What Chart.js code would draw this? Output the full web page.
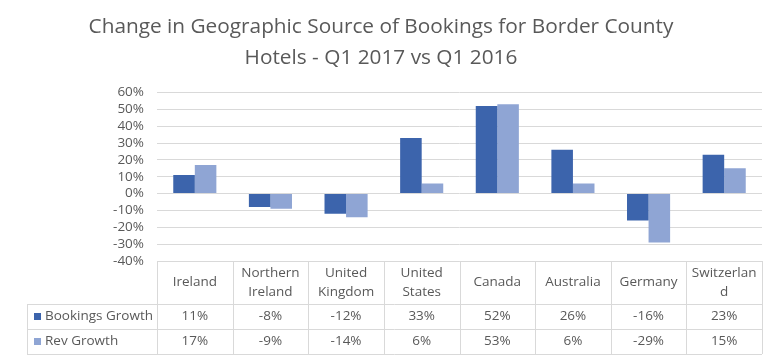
<!DOCTYPE html>
<html>
<head>
<meta charset="utf-8" />
<title>Change in Geographic Source of Bookings</title>
<script src="https://cdn.jsdelivr.net/npm/chart.js@4.4.1/dist/chart.umd.min.js"></script>
<style>
  html, body { margin: 0; padding: 0; background: #fff; }
  #wrap { width: 780px; height: 363px; }
</style>
</head>
<body>
<div id="wrap"><canvas id="myChart" width="780" height="363"></canvas></div>
<script>
// data
const categories = [
  ['Ireland'],
  ['Northern', 'Ireland'],
  ['United', 'Kingdom'],
  ['United', 'States'],
  ['Canada'],
  ['Australia'],
  ['Germany'],
  ['Switzerlan', 'd']
];
const seriesNames = ['Bookings Growth', 'Rev Growth'];
const bookingsGrowth = [11, -8, -12, 33, 52, 26, -16, 23];
const revGrowth = [17, -9, -14, 6, 53, 6, -29, 15];
const yMin = -40, yMax = 60, yStep = 10;

const darkBlue = '#3C64AC';
const lightBlue = '#8FA5D4';
const textGrey = '#595959';
const lineGrey = '#D9D9D9';
const fontFam = '"Open Sans", "Noto Sans", sans-serif';
const smallSize = 13.5;

// draws the excel style data table under the plot
const dataTable = {
  id: 'dataTable',
  afterDraw(chart) {
    const ctx = chart.ctx;
    const x = chart.scales.x;
    const area = chart.chartArea;
    const top = area.bottom;
    const headBottom = top + 43;
    const row1Bottom = headBottom + 25;
    const row2Bottom = row1Bottom + 25;
    const tableLeft = 27;
    const half = (x.getPixelForValue(1) - x.getPixelForValue(0)) / 2;

    ctx.save();
    ctx.strokeStyle = lineGrey;
    ctx.lineWidth = 1;
    ctx.beginPath();
    // horizontal lines
    ctx.moveTo(area.left, top + 0.5); ctx.lineTo(area.right, top + 0.5);
    [headBottom, row1Bottom, row2Bottom].forEach(y => {
      ctx.moveTo(tableLeft, Math.round(y) + 0.5); ctx.lineTo(area.right, Math.round(y) + 0.5);
    });
    // vertical lines
    ctx.moveTo(tableLeft + 0.5, headBottom); ctx.lineTo(tableLeft + 0.5, row2Bottom);
    for (let i = 0; i <= categories.length; i++) {
      const px = Math.round(i < categories.length ? x.getPixelForValue(i) - half : x.getPixelForValue(i - 1) + half) + 0.5;
      ctx.moveTo(px, top); ctx.lineTo(px, row2Bottom);
    }
    ctx.stroke();

    ctx.fillStyle = textGrey;
    ctx.font = smallSize + 'px ' + fontFam;
    ctx.textAlign = 'center';
    ctx.textBaseline = 'middle';
    const headMid = (top + headBottom) / 2;
    categories.forEach((lines, i) => {
      const cx = x.getPixelForValue(i);
      const lh = 19;
      const y0 = headMid - (lines.length - 1) * lh / 2;
      lines.forEach((t, k) => ctx.fillText(t, cx, y0 + k * lh));
    });
    const rows = [bookingsGrowth, revGrowth];
    const rowMids = [(headBottom + row1Bottom) / 2, (row1Bottom + row2Bottom) / 2];
    rows.forEach((vals, r) => {
      vals.forEach((v, i) => ctx.fillText(v + '%', x.getPixelForValue(i), rowMids[r]));
    });
    // legend keys
    const colors = [darkBlue, lightBlue];
    ctx.textAlign = 'left';
    seriesNames.forEach((name, r) => {
      ctx.fillStyle = colors[r];
      ctx.fillRect(34, rowMids[r] - 3.5, 7, 7);
      ctx.fillStyle = textGrey;
      ctx.fillText(name, 45, rowMids[r]);
    });
    ctx.restore();
  }
};

const ctx = document.getElementById('myChart').getContext('2d');
const myChart = new Chart(ctx, {
  type: 'bar',
  data: {
    labels: categories,
    datasets: [{
      label: seriesNames[0],
      data: bookingsGrowth,
      backgroundColor: darkBlue,
      borderWidth: 0
    }, {
      label: seriesNames[1],
      data: revGrowth,
      backgroundColor: lightBlue,
      borderWidth: 0
    }]
  },
  options: {
    responsive: false,
    animation: false,
    layout: { padding: { left: 0, right: 18, top: 0, bottom: 102 } },
    datasets: { bar: { barPercentage: 1, categoryPercentage: 0.57 } },
    plugins: {
      legend: { display: false },
      tooltip: { enabled: false },
      title: {
        display: true,
        text: ['Change in Geographic Source of Bookings for Border County', 'Hotels - Q1 2017 vs Q1 2016'],
        color: textGrey,
        font: { family: fontFam, size: 20.8, weight: 'normal', lineHeight: 31 / 20.8 },
        padding: { top: 12, bottom: 18.5 }
      }
    },
    scales: {
      x: { display: false },
      y: {
        min: yMin,
        max: yMax,
        afterFit(scale) { scale.width = 157; },
        border: { display: false },
        grid: { color: lineGrey, drawTicks: false },
        ticks: {
          stepSize: yStep,
          autoSkip: false,
          padding: 13,
          color: textGrey,
          font: { family: fontFam, size: smallSize },
          callback: v => v + '%'
        }
      }
    }
  },
  plugins: [dataTable]
});
</script>
</body>
</html>
